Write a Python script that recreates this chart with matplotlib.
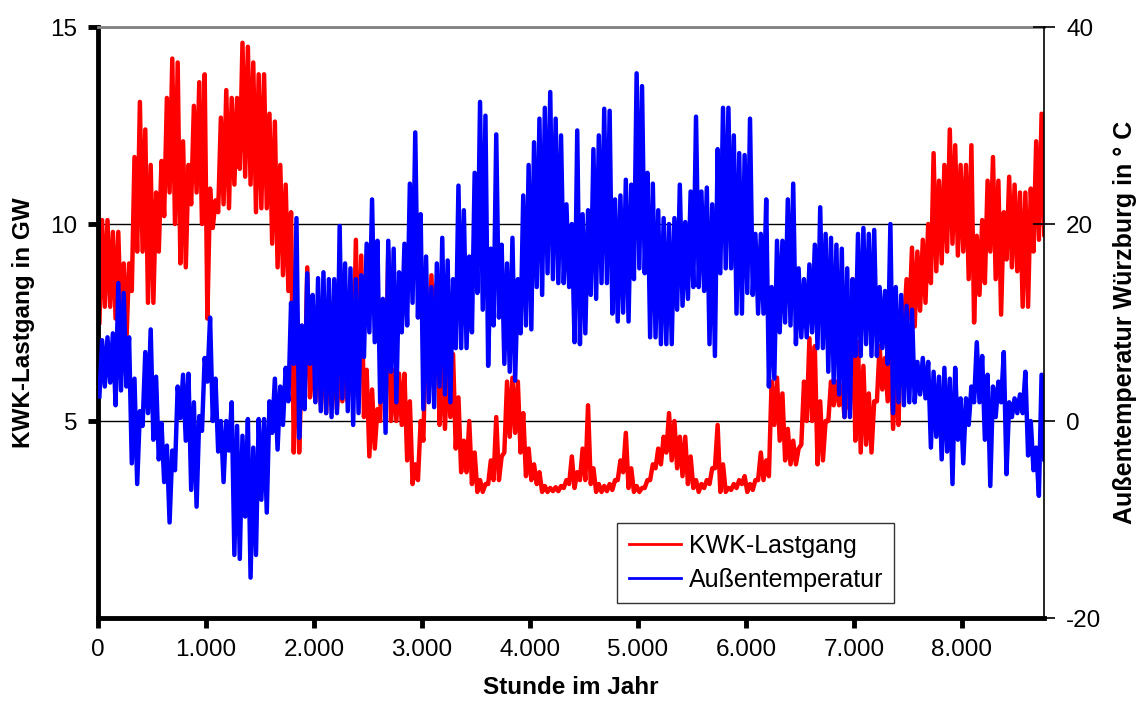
import matplotlib
matplotlib.use("Agg")
import matplotlib.pyplot as plt
from matplotlib.ticker import FuncFormatter

plt.rcParams['font.family'] = ['Liberation Sans', 'DejaVu Sans']
plt.rcParams['axes.unicode_minus'] = False

# Minimum / Maximum je 50-Stunden-Block
block_h = 50
kwk_lo = [7.5, 7.9, 7.9, 7.6, 7.4, 7.0, 8.3, 9.3, 9.3, 8.0,
          8.0, 9.3, 10.2, 10.8, 10.0, 9.0, 8.9, 10.5, 10.8, 10.0,
          7.6, 9.9, 10.3, 10.5, 10.4, 11.0, 11.4, 11.2, 11.0, 10.3,
          10.4, 10.4, 9.5, 8.9, 8.7, 8.3, 4.2, 4.2, 5.6, 5.6,
          5.5, 5.4, 5.2, 5.4, 5.3, 5.5, 5.5, 6.0, 5.8, 5.1,
          4.1, 4.3, 5.0, 5.3, 5.0, 5.0, 4.9, 4.0, 3.4, 3.5,
          4.5, 6.4, 6.5, 4.9, 4.8, 5.1, 4.3, 3.7, 3.7, 3.4,
          3.2, 3.2, 3.4, 3.5, 3.5, 4.2, 4.6, 4.7, 4.2, 3.6,
          3.5, 3.4, 3.2, 3.2, 3.22, 3.22, 3.3, 3.4, 3.3, 3.5,
          3.5, 3.4, 3.2, 3.2, 3.22, 3.25, 3.5, 3.7, 3.3, 3.2,
          3.2, 3.3, 3.5, 3.8, 3.9, 4.2, 4.0, 3.8, 3.6, 3.4,
          3.3, 3.2, 3.3, 3.4, 3.8, 3.2, 3.2, 3.25, 3.3, 3.4,
          3.2, 3.25, 3.5, 3.5, 3.6, 4.9, 4.5, 4.0, 3.9, 3.9,
          4.4, 5.0, 5.0, 3.9, 4.0, 5.0, 5.4, 5.4, 5.1, 5.3,
          4.5, 4.2, 4.4, 4.2, 5.5, 5.8, 5.5, 4.8, 4.9, 7.4,
          7.6, 7.4, 7.8, 8.0, 8.5, 8.8, 9.0, 9.3, 9.5, 9.2,
          9.3, 8.6, 7.5, 8.2, 8.5, 9.3, 8.6, 7.7, 9.1, 8.9,
          8.8, 7.9, 7.9, 9.3, 9.6, 9.7]
kwk_hi = [10.1, 10.1, 9.8, 9.8, 9.0, 9.0, 11.7, 13.1, 12.4, 11.5,
          10.8, 11.6, 13.2, 14.2, 14.1, 12.1, 11.5, 13.0, 13.6, 13.8,
          10.9, 10.6, 12.7, 13.4, 13.2, 13.2, 14.6, 14.5, 14.1, 13.8,
          13.8, 12.8, 12.6, 11.5, 11.0, 10.3, 8.0, 6.5, 8.9, 7.0,
          7.3, 7.2, 6.8, 6.6, 6.4, 6.6, 7.4, 9.6, 9.2, 6.3,
          5.8, 5.3, 8.0, 9.3, 6.3, 6.2, 6.2, 5.5, 3.9, 5.0,
          7.5, 8.7, 8.5, 6.7, 6.6, 6.7, 5.6, 4.5, 5.0, 4.2,
          3.5, 3.4, 4.0, 5.1, 4.1, 6.0, 6.1, 6.0, 5.2, 4.3,
          3.9, 3.7, 3.35, 3.3, 3.32, 3.35, 3.5, 4.1, 3.7, 4.3,
          5.4, 3.8, 3.4, 3.35, 3.4, 3.5, 4.0, 4.7, 3.8, 3.35,
          3.3, 3.5, 3.9, 4.3, 4.6, 5.2, 5.0, 4.6, 4.6, 4.1,
          3.5, 3.4, 3.5, 3.8, 4.9, 3.9, 3.3, 3.4, 3.5, 3.6,
          3.4, 3.5, 4.2, 4.0, 6.0, 6.1, 5.7, 4.8, 4.5, 4.3,
          6.0, 7.1, 6.9, 5.5, 5.0, 6.0, 6.0, 5.9, 6.0, 8.6,
          7.0, 6.4, 5.7, 5.5, 6.9, 6.6, 6.8, 6.4, 7.5, 8.6,
          9.4, 9.3, 9.6, 10.0, 11.8, 11.1, 11.5, 12.4, 12.0, 11.5,
          11.5, 12.0, 9.7, 10.1, 11.1, 11.7, 11.1, 10.3, 11.2, 11.0,
          10.8, 10.8, 10.9, 12.1, 12.8, 12.8]
temp_lo = [2.5, 3.5, 3.9, 1.6, 3.1, 3.5, -4.3, -6.4, -0.5, 0.8,
           -1.9, -3.9, -6.2, -10.3, -5.0, 0.3, -2.0, -7.0, -8.7, -1.0,
           4.0, 0.0, -3.1, -6.2, -3.0, -13.6, -14.0, -9.7, -15.9, -13.6,
           -8.0, -9.3, -1.2, -2.9, -0.4, 2.0, 5.8, -1.7, 1.2, 5.8,
           1.9, 1.0, 0.8, 0.4, 0.8, 2.3, 1.0, -0.4, 0.8, 6.5,
           9.0, 8.0, 1.9, -1.2, 5.0, 1.9, 9.0, 9.7, 12.0, 10.5,
           1.2, 1.9, 1.4, 3.5, 2.7, 1.9, 7.4, 7.4, 7.4, 9.0,
           13.0, 11.3, 5.6, 9.7, 10.5, 5.8, 5.0, 4.1, 8.9, 9.7,
           9.3, 13.6, 12.8, 15.0, 14.4, 14.0, 14.0, 13.6, 8.0, 7.8,
           8.9, 12.8, 12.4, 14.0, 14.0, 10.9, 10.1, 11.0, 10.1, 14.4,
           15.5, 15.0, 8.5, 8.5, 7.8, 7.8, 7.8, 11.3, 11.7, 12.4,
           13.6, 13.6, 13.2, 7.8, 6.6, 15.0, 15.5, 15.5, 10.9, 10.9,
           13.0, 12.8, 10.9, 10.9, 3.5, 4.3, 9.0, 10.0, 9.7, 7.8,
           8.5, 8.5, 9.0, 7.4, 7.4, 5.0, 3.9, 2.7, 0.4, 0.4,
           6.6, 6.6, 7.8, 6.6, 6.6, 7.4, 5.8, 0.8, 1.9, 1.6,
           1.9, 1.9, 2.7, 2.3, -2.7, -1.6, -3.9, -3.1, -6.4, -1.9,
           -4.3, -0.4, 1.9, 1.9, -1.9, -6.6, 0.4, 1.9, -5.4, 0.4,
           0.8, 0.8, -3.5, -5.0, -7.6, -4.0]
temp_hi = [8.2, 8.5, 8.9, 14.0, 13.0, 8.5, 4.3, 1.0, 7.0, 9.3,
           4.5, -0.2, -2.5, -3.0, 3.5, 4.7, 4.8, 1.9, 0.5, 6.4,
           10.5, 4.3, 0.0, 0.0, 1.9, -0.5, -1.5, 0.2, -2.7, 0.2,
           0.2, 2.0, 4.3, 3.5, 5.4, 12.0, 20.6, 9.7, 15.0, 12.8,
           14.5, 15.1, 14.4, 14.4, 19.8, 16.0, 15.5, 14.4, 14.8, 18.0,
           22.5, 18.3, 12.4, 18.3, 17.5, 15.1, 18.0, 24.1, 29.3, 21.0,
           16.7, 13.6, 16.0, 18.6, 16.3, 14.4, 23.9, 21.4, 16.7, 25.2,
           32.4, 31.0, 17.5, 29.1, 17.9, 16.0, 18.6, 14.4, 22.9, 26.0,
           28.3, 30.7, 31.8, 33.4, 30.7, 29.0, 22.0, 20.0, 29.5, 21.0,
           21.4, 27.6, 29.0, 31.7, 31.5, 22.5, 22.9, 24.5, 24.0, 35.3,
           34.0, 25.2, 24.1, 21.4, 20.6, 20.0, 20.6, 24.0, 20.2, 23.3,
           30.9, 23.3, 23.7, 22.0, 27.6, 31.8, 31.8, 29.0, 27.2, 27.0,
           30.7, 19.0, 19.0, 22.5, 13.6, 18.3, 18.3, 22.5, 24.1, 15.5,
           14.4, 15.9, 17.9, 21.7, 19.0, 18.6, 17.9, 17.5, 15.5, 14.4,
           19.0, 19.6, 19.0, 19.4, 13.6, 13.2, 20.0, 13.6, 12.8, 11.7,
           11.3, 6.0, 6.4, 6.0, 5.0, 4.5, 5.4, 4.3, 5.4, 2.3,
           2.3, 3.5, 8.0, 6.6, 4.7, 3.5, 4.0, 7.0, 1.9, 2.3,
           2.7, 5.0, 0.0, -2.7, 4.7, 4.7]

x_ticks = list(range(0, 9000, 1000))


def zigzag(lo, hi):
    # pro Block erst Minimum, dann Maximum
    xs, ys = [], []
    for i, (a, b) in enumerate(zip(lo, hi)):
        xs += [i * block_h + 12.5, i * block_h + 37.5]
        ys += [a, b]
    return xs, ys


fig = plt.figure(figsize=(11.4, 7.11), dpi=100)
ax = fig.add_axes([0.086, 0.1308, 0.8298, 0.8312])
ax2 = ax.twinx()

kx, ky = zigzag(kwk_lo, kwk_hi)
tx, ty = zigzag(temp_lo, temp_hi)
l1, = ax.plot(kx, ky, color='#ff0000', lw=3.2)
l2, = ax2.plot(tx, ty, color='#0000ff', lw=3.2)

ax.set_xlim(0, 8760)
ax.set_ylim(0, 15)
ax2.set_ylim(-20, 40)
ax.set_yticks([5, 10, 15])
ax2.set_yticks([-20, 0, 20, 40])
ax.set_xticks(x_ticks)
ax.xaxis.set_major_formatter(FuncFormatter(lambda v, p: f"{int(v):,}".replace(",", ".")))

ax.yaxis.grid(True, color='black', lw=1)
ax.set_axisbelow(True)

for s in ['left', 'bottom']:
    ax.spines[s].set_linewidth(3.5)
ax.spines['top'].set_color('#808080')
ax.spines['top'].set_linewidth(2)
ax.spines['right'].set_visible(False)
for s in ['left', 'bottom', 'top']:
    ax2.spines[s].set_visible(False)
ax2.spines['right'].set_linewidth(1.2)

ax.tick_params(axis='both', direction='out', length=7, width=3.5, labelsize=17.5, pad=8)
ax2.tick_params(axis='y', direction='inout', length=16, width=1.2, labelsize=17.5, pad=8)

ax.set_xlabel("Stunde im Jahr", fontsize=17.5, fontweight='bold', labelpad=11)
ax.set_ylabel("KWK-Lastgang in GW", fontsize=17.5, fontweight='bold', labelpad=11)
ax2.set_ylabel("Außentemperatur Würzburg in ° C", fontsize=18, fontweight='bold', labelpad=8)

leg = ax2.legend([l1, l2], ["KWK-Lastgang", "Außentemperatur"],
                 loc='lower left', bbox_to_anchor=(0.549, 0.025),
                 fontsize=18, frameon=True, fancybox=False,
                 edgecolor='black', handlelength=2.1, borderpad=0.45,
                 labelspacing=0.4, handletextpad=0.3, borderaxespad=0)
leg.get_frame().set_linewidth(1)
for h in leg.get_lines():
    h.set_linewidth(2)

fig.savefig("out.png", dpi=100)
